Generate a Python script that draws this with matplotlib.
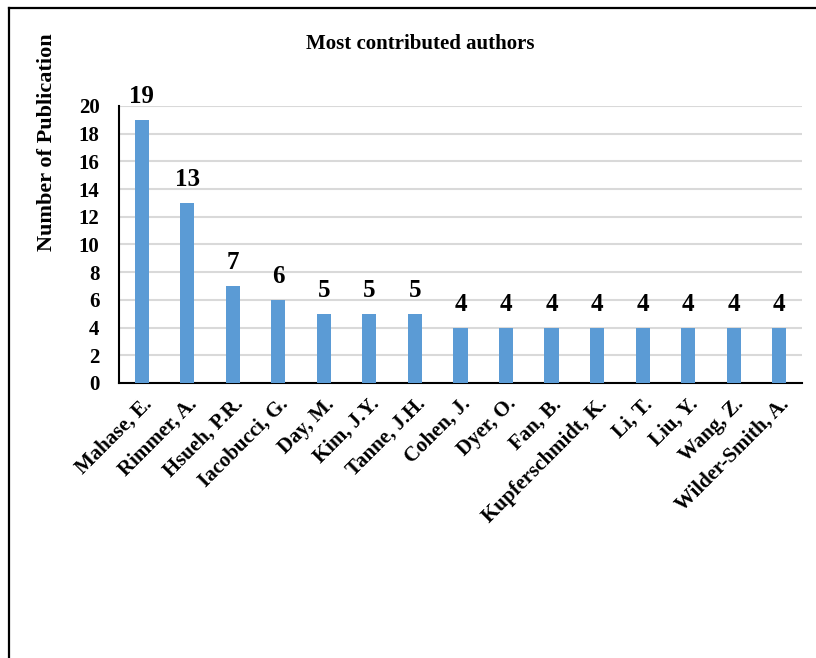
import matplotlib
matplotlib.use("Agg")
import matplotlib.pyplot as plt
from matplotlib.lines import Line2D

authors = ["Mahase, E.", "Rimmer, A.", "Hsueh, P.R.", "Iacobucci, G.", "Day, M.",
           "Kim, J.Y.", "Tanne, J.H.", "Cohen, J.", "Dyer, O.", "Fan, B.",
           "Kupferschmidt, K.", "Li, T.", "Liu, Y.", "Wang, Z.", "Wilder-Smith, A."]
publications = [19, 13, 7, 6, 5, 5, 5, 4, 4, 4, 4, 4, 4, 4, 4]
y_ticks = [0, 2, 4, 6, 8, 10, 12, 14, 16, 18, 20]

plt.rcParams['font.family'] = ['Liberation Serif', 'DejaVu Serif']
plt.rcParams['font.weight'] = 'bold'

fig = plt.figure(figsize=(8.16, 6.58), dpi=100)
ax = fig.add_axes([0.1458, 0.418, 0.837, 0.421])

x = list(range(len(authors)))
ax.bar(x, publications, width=0.31, color='#5b9bd5', zorder=3)

ax.set_xlim(-0.5, len(authors) - 0.5)
ax.set_ylim(0, 20)
ax.set_yticks(y_ticks)
ax.set_yticklabels([str(t) for t in y_ticks], fontsize=15, fontweight='bold')
ax.yaxis.grid(True, color='#d9d9d9', linewidth=1.5, zorder=0)
ax.set_axisbelow(True)
ax.tick_params(axis='y', length=0, pad=14)
ax.tick_params(axis='x', length=0, pad=8)

ax.set_xticks(x)
ax.set_xticklabels(authors, rotation=45, ha='right', rotation_mode='anchor',
                   fontsize=15, fontweight='bold')

for side in ['top', 'right']:
    ax.spines[side].set_visible(False)
for side in ['left', 'bottom']:
    ax.spines[side].set_color('black')
    ax.spines[side].set_linewidth(1.5)

for xi, v in zip(x, publications):
    ax.annotate(str(v), (xi, v), xytext=(0, 8.5), textcoords='offset points',
                ha='center', va='bottom', fontsize=18, fontweight='bold')

fig.text(0.515, 0.933, "Most contributed authors", ha='center', va='center',
         fontsize=15, fontweight='bold')
fig.text(0.057, 0.784, "Number of Publication", ha='center', va='center',
         rotation=90, fontsize=16, fontweight='bold')

# outer frame (left and top edges)
fig.add_artist(Line2D([0.0105, 0.0105], [0.0, 0.988], transform=fig.transFigure,
                      color='black', linewidth=1.6))
fig.add_artist(Line2D([0.0105, 1.0], [0.988, 0.988], transform=fig.transFigure,
                      color='black', linewidth=1.6))

fig.savefig("out.png", dpi=100)
